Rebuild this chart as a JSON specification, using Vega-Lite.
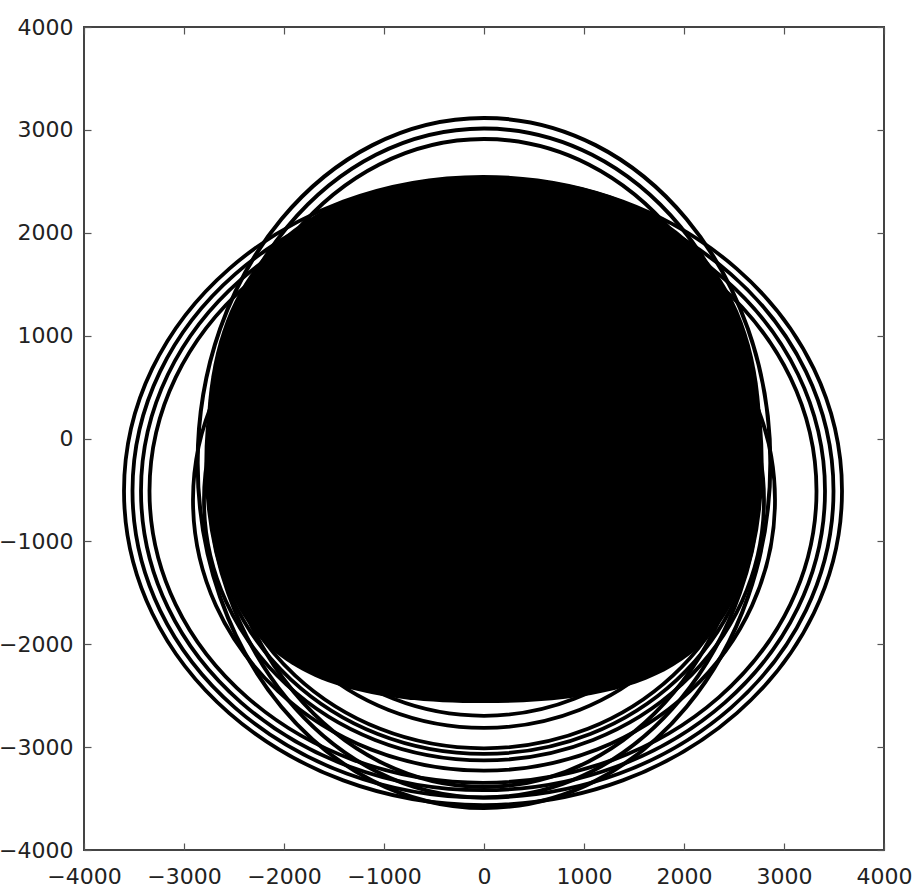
{
  "$schema": "https://vega.github.io/schema/vega-lite/v6.json",
  "width": 800,
  "height": 823,
  "autosize": {"type": "none"},
  "padding": {"left": 84, "top": 27, "right": 38, "bottom": 42},
  "background": "white",
  "config": {
    "view": {"stroke": "#444", "strokeWidth": 2},
    "axis": {
      "domain": false, "grid": false, "title": null,
      "tickSize": -7, "tickColor": "#555", "tickWidth": 1.2,
      "labelFont": "DejaVu Sans", "labelFontSize": 22,
      "labelColor": "#222", "format": "d",
      "labelOverlap": false, "labelFlush": false, "labelBound": false
    }
  },
  "datasets": {
    "core": [{"x": 0, "y": -15, "r": 2720}],
    "tall": [
      {"x": 0, "y": -238, "r": 3450}, {"x": 0, "y": -238, "r": 3345},
      {"x": 0, "y": -238, "r": 3240}
    ],
    "wide": [
      {"x": -10, "y": -510, "r": 3590}, {"x": -10, "y": -510, "r": 3505},
      {"x": -10, "y": -510, "r": 3420}, {"x": -10, "y": -510, "r": 3335}
    ],
    "low": [
      {"x": 0, "y": -598, "r": 2320}, {"x": 0, "y": -598, "r": 2450},
      {"x": 0, "y": -598, "r": 2670}, {"x": 0, "y": -598, "r": 2730},
      {"x": 0, "y": -598, "r": 2800}, {"x": 0, "y": -598, "r": 2910}
    ]
  },
  "layer": [
    {
      "data": {"name": "core"},
      "mark": {"type": "point", "filled": true, "color": "black", "opacity": 1,
               "shape": "M1.02,0C1.02,-0.638,0.673,-0.967,0,-0.967C-0.673,-0.967,-1.02,-0.638,-1.02,0C-1.02,0.725,-0.765,0.967,0,0.967C0.765,0.967,1.02,0.725,1.02,0Z"},
      "encoding": {
        "x": {"field": "x", "type": "quantitative", "scale": {"domain": [-4000, 4000], "nice": false, "zero": false},
              "axis": {"orient": "bottom", "values": [-4000, -3000, -2000, -1000, 0, 1000, 2000, 3000, 4000], "labelPadding": 23, "labelBaseline": "top"}},
        "y": {"field": "y", "type": "quantitative", "scale": {"domain": [-4000, 4000], "nice": false, "zero": false},
              "axis": {"orient": "left", "values": [-4000, -3000, -2000, -1000, 0, 1000, 2000, 3000, 4000], "labelPadding": 18}},
        "size": {"field": "r", "type": "quantitative", "legend": null,
                 "scale": {"type": "pow", "exponent": 2, "domain": [0, 4000], "range": [0, 640000]}}
      }
    },
    {
      "data": {"name": "low"},
      "mark": {"type": "point", "filled": false, "color": "black", "opacity": 1, "strokeWidth": 3.8,
               "shape": "M-1,0A1,0.93,0,1,1,1,0A1,0.93,0,1,1,-1,0Z"},
      "encoding": {
        "x": {"field": "x", "type": "quantitative", "scale": {"domain": [-4000, 4000], "nice": false, "zero": false}, "axis": null},
        "y": {"field": "y", "type": "quantitative", "scale": {"domain": [-4000, 4000], "nice": false, "zero": false}, "axis": null},
        "size": {"field": "r", "type": "quantitative", "legend": null,
                 "scale": {"type": "pow", "exponent": 2, "domain": [0, 4000], "range": [0, 640000]}}
      }
    },
    {
      "data": {"name": "tall"},
      "mark": {"type": "point", "filled": false, "color": "black", "opacity": 1, "strokeWidth": 4,
               "shape": "M0,-1A0.83,1,0,1,1,0,1A0.83,1,0,1,1,0,-1Z"},
      "encoding": {
        "x": {"field": "x", "type": "quantitative", "scale": {"domain": [-4000, 4000], "nice": false, "zero": false}, "axis": null},
        "y": {"field": "y", "type": "quantitative", "scale": {"domain": [-4000, 4000], "nice": false, "zero": false}, "axis": null},
        "size": {"field": "r", "type": "quantitative", "legend": null,
                 "scale": {"type": "pow", "exponent": 2, "domain": [0, 4000], "range": [0, 640000]}}
      }
    },
    {
      "data": {"name": "wide"},
      "mark": {"type": "point", "filled": false, "color": "black", "opacity": 1, "strokeWidth": 3.8,
               "shape": "M-1,0A1,0.875,0,1,1,1,0A1,0.875,0,1,1,-1,0Z"},
      "encoding": {
        "x": {"field": "x", "type": "quantitative", "scale": {"domain": [-4000, 4000], "nice": false, "zero": false},
              "axis": {"orient": "top", "values": [-4000, -3000, -2000, -1000, 0, 1000, 2000, 3000, 4000], "labels": false}},
        "y": {"field": "y", "type": "quantitative", "scale": {"domain": [-4000, 4000], "nice": false, "zero": false},
              "axis": {"orient": "right", "values": [-4000, -3000, -2000, -1000, 0, 1000, 2000, 3000, 4000], "labels": false}},
        "size": {"field": "r", "type": "quantitative", "legend": null,
                 "scale": {"type": "pow", "exponent": 2, "domain": [0, 4000], "range": [0, 640000]}}
      }
    }
  ],
  "resolve": {"axis": {"x": "independent", "y": "independent"}}
}
